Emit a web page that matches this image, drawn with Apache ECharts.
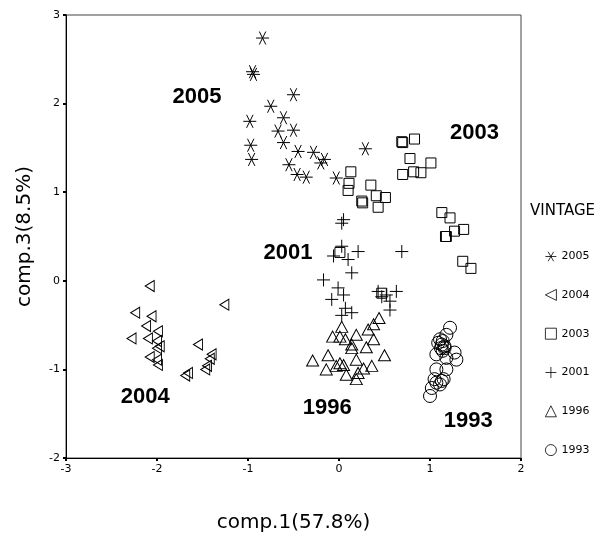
<!DOCTYPE html>
<html>
<head>
<meta charset="UTF-8">
<title>VINTAGE</title>
<script src="https://cdn.jsdelivr.net/npm/echarts@6/dist/echarts.min.js"></script>
<style>
 html,body{margin:0;padding:0;background:#fff;}
 #main{width:610px;height:544px;}
</style>
</head>
<body>
<div id="main"></div>
<script>
// vintage scores, [comp.1, comp.3]
var vintage2005 = [[-0.84,2.74],[-0.95,2.36],[-0.94,2.33],[-0.50,2.10],[-0.75,1.97],[-0.98,1.80],[-0.61,1.84],
  [-0.67,1.69],[-0.50,1.70],[-0.61,1.56],[-0.97,1.53],[-0.96,1.37],[-0.45,1.46],[-0.55,1.31],[-0.46,1.20],
  [-0.36,1.17],[-0.28,1.45],[-0.16,1.37],[-0.20,1.33],[0.29,1.49],[-0.03,1.16]];
var vintage2004 = [[-2.08,-0.06],[-1.26,-0.27],[-2.24,-0.36],[-2.06,-0.40],[-2.12,-0.51],[-1.99,-0.57],[-2.28,-0.65],
  [-2.10,-0.65],[-2.00,-0.68],[-1.97,-0.74],[-2.00,-0.76],[-1.55,-0.72],[-1.40,-0.83],[-1.42,-0.88],[-2.08,-0.86],
  [-2.00,-0.89],[-1.99,-0.95],[-1.45,-0.96],[-1.47,-1.00],[-1.66,-1.04],[-1.69,-1.07]];
var vintage2003 = [[0.70,1.56],[0.69,1.57],[0.83,1.60],[0.78,1.38],[1.01,1.33],[0.70,1.20],[0.82,1.23],[0.90,1.22],
  [0.13,1.23],[0.11,1.10],[0.10,1.02],[0.35,1.08],[0.41,0.96],[0.51,0.94],[0.25,0.90],[0.26,0.88],[0.43,0.83],
  [1.13,0.77],[1.22,0.71],[1.37,0.58],[1.27,0.56],[1.18,0.50],[1.17,0.50],[1.36,0.22],[1.45,0.14],
  [0.01,0.32],[0.47,-0.14]];
var vintage2001 = [[0.05,0.69],[0.03,0.65],[0.03,0.39],[-0.06,0.28],[0.10,0.24],[0.21,0.33],[0.69,0.33],[0.14,0.09],
  [-0.17,0.01],[-0.01,-0.08],[0.05,-0.16],[-0.08,-0.21],[0.07,-0.31],[0.14,-0.36],[0.03,-0.39],[0.43,-0.12],
  [0.52,-0.16],[0.63,-0.12],[0.56,-0.23],[0.56,-0.33],[0.47,-0.18]];
var vintage1996 = [[0.44,-0.42],[0.38,-0.49],[0.03,-0.52],[-0.07,-0.63],[0.01,-0.63],[0.07,-0.66],[0.19,-0.61],
  [0.32,-0.55],[0.38,-0.66],[0.14,-0.72],[0.30,-0.75],[0.14,-0.76],[-0.12,-0.84],[-0.29,-0.90],[0.50,-0.84],
  [-0.14,-1.00],[-0.03,-0.96],[0.05,-0.95],[0.19,-0.89],[0.36,-0.96],[0.27,-0.99],[0.08,-1.06],[0.21,-1.04],
  [0.19,-1.11],[0.01,-0.93]];
var vintage1993 = [[1.22,-0.53],[1.18,-0.61],[1.11,-0.66],[1.14,-0.68],[1.09,-0.70],[1.13,-0.72],[1.16,-0.74],
  [1.12,-0.76],[1.16,-0.76],[1.14,-0.79],[1.07,-0.83],[1.27,-0.81],[1.29,-0.89],[1.18,-0.87],[1.07,-1.00],
  [1.18,-1.00],[1.05,-1.11],[1.13,-1.13],[1.07,-1.15],[1.15,-1.11],[1.11,-1.17],[1.02,-1.21],[1.00,-1.30]];

var vintageNames = ['2005','2004','2003','2001','1996','1993'];
// group labels written on the plot
var groupLabels = ['2005','2003','2001','2004','1996','1993'];
var groupLabelX = [-1.56, 1.49, -0.56, -2.13, -0.13, 1.42];
var groupLabelY = [2.08, 1.67, 0.32, -1.31, -1.44, -1.58];

var myChart = echarts.init(document.getElementById('main'));

// scatter defaults to opacity 0.8, the original marks are solid black
var markerStyle = {color:'rgba(0,0,0,0)', borderColor:'#000', borderWidth:1, opacity:1};
function vintageSeries(name, data, symbol, size){
  return {
    name: name, type: 'scatter', data: data,
    symbol: symbol, symbolSize: size,
    itemStyle: markerStyle,
    emphasis: {disabled: true},
    z: 3
  };
}

var labelData = [];
for (var i = 0; i < groupLabels.length; i++) {
  labelData.push([groupLabelX[i], groupLabelY[i], groupLabels[i]]);
}

var option = {
  animation: false,
  backgroundColor: '#fff',
  grid: {
    left: 66, right: 89, top: 15, bottom: 86,
    show: true, borderColor: '#444', borderWidth: 1
  },
  xAxis: {
    type: 'value', min: -3, max: 2, interval: 1,
    name: 'comp.1(57.8%)', nameLocation: 'middle', nameGap: 55,
    nameTextStyle: {fontFamily: 'DejaVu Sans', fontSize: 20, color: '#000'},
    axisLine: {onZero: false, lineStyle: {color: '#000', width: 1}},
    axisTick: {length: 3, lineStyle: {color: '#000', width: 2}},
    axisLabel: {fontFamily: 'DejaVu Sans', fontSize: 11, color: '#000', margin: 6},
    splitLine: {show: false}
  },
  yAxis: {
    type: 'value', min: -2, max: 3, interval: 1,
    name: 'comp.3(8.5%)', nameLocation: 'middle', nameGap: 31,
    nameTextStyle: {fontFamily: 'DejaVu Sans', fontSize: 20, color: '#000'},
    axisLine: {onZero: false, lineStyle: {color: '#000', width: 1}},
    axisTick: {length: 3, lineStyle: {color: '#000', width: 2}},
    axisLabel: {fontFamily: 'DejaVu Sans', fontSize: 11, color: '#000', margin: 6},
    splitLine: {show: false}
  },
  legend: {
    orient: 'vertical', left: 540, top: 246,
    itemWidth: 11, itemHeight: 11, itemGap: 27,
    data: vintageNames,
    selectedMode: false,
    itemStyle: {color: 'rgba(0,0,0,0)', borderColor: '#000', borderWidth: 0.8},
    textStyle: {fontFamily: 'DejaVu Sans', fontSize: 11, color: '#000'}
  },
  graphic: [{
    type: 'text', left: 530, top: 204,
    style: {text: 'VINTAGE', fontFamily: 'DejaVu Sans', fontSize: 15, fill: '#000'}
  }],
  series: [
    vintageSeries('2005', vintage2005, 'path://M0,5L10,5M2.5,0.67L7.5,9.33M2.5,9.33L7.5,0.67', 13),
    vintageSeries('2004', vintage2004, 'path://M10,0L0,5L10,10Z', [9, 11]),
    vintageSeries('2003', vintage2003, 'rect', 10),
    vintageSeries('2001', vintage2001, 'path://M5,0L5,10M0,5L10,5', 13),
    vintageSeries('1996', vintage1996, 'triangle', [12, 11]),
    vintageSeries('1993', vintage1993, 'circle', 13),
    {
      name: 'groups', type: 'scatter', data: labelData,
      symbolSize: 0, silent: true,
      itemStyle: {opacity: 1},
      label: {
        show: true, position: 'inside',
        formatter: function(p){ return p.data[2]; },
        fontFamily: 'Liberation Sans', fontWeight: 'bold', fontSize: 22,
        color: '#000', textBorderWidth: 0
      },
      z: 4
    }
  ]
};
myChart.setOption(option);
</script>
</body>
</html>
